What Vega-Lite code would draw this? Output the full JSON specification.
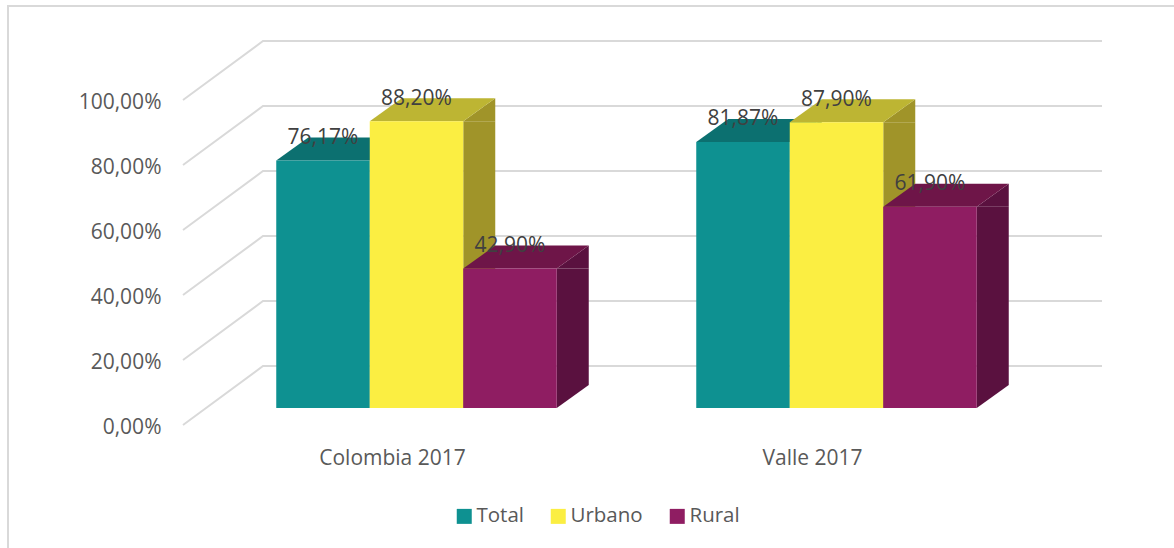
{
"$schema":"https://vega.github.io/schema/vega-lite/v6.json",
"width":1169,"height":545,
"autosize":{"type":"none"},
"padding":{"left":8,"top":6,"right":-3,"bottom":-3},
"background":"white",
"title":{"text":"Figura","anchor":"start","frame":"group","font":"Liberation Serif","fontWeight":"bold","fontSize":20,"color":"#000000","baseline":"alphabetic","offset":7,"dx":9},
"config":{"view":{"stroke":"#D9D9D9","strokeWidth":2},"font":"Open Sans"},
"datasets":{
 "bars":[
  {"grupo":"Colombia 2017","serie":"Total","valor":76.17,"etiqueta":"76,17%"},
  {"grupo":"Colombia 2017","serie":"Urbano","valor":88.2,"etiqueta":"88,20%"},
  {"grupo":"Colombia 2017","serie":"Rural","valor":42.9,"etiqueta":"42,90%"},
  {"grupo":"Valle 2017","serie":"Total","valor":81.87,"etiqueta":"81,87%"},
  {"grupo":"Valle 2017","serie":"Urbano","valor":87.9,"etiqueta":"87,90%"},
  {"grupo":"Valle 2017","serie":"Rural","valor":61.9,"etiqueta":"61,90%"}
 ],
 "grid":[{"t":0},{"t":20},{"t":40},{"t":60},{"t":80},{"t":100}]
},
"data":{"name":"bars"},
"encoding":{
 "y":{"field":"valor","type":"quantitative","scale":{"domain":[-44,123.692],"nice":false,"zero":false}}
},
"layer":[
 {"data":{"name":"grid"},
  "mark":{"type":"point","shape":"M-80,59L0,0L839,0","size":4,"filled":false,"fill":null,"stroke":"#D9D9D9","strokeWidth":2,"opacity":1,"xOffset":56.5,"yOffset":-42},
  "encoding":{
   "x":{"datum":"Colombia 2017","bandPosition":0,"type":"nominal"},
   "y":{"field":"t","type":"quantitative"}
  }},
 {"mark":{"type":"bar","y2Offset":-23},
  "encoding":{
   "x":{"field":"grupo","type":"nominal"},
   "xOffset":{"field":"serie","type":"nominal","scale":{"type":"band","domain":["Total","Urbano","Rural"],"range":[163.25,382.25],"paddingInner":0.65775,"paddingOuter":0}},
   "y2":{"datum":0},
   "color":{"field":"serie","type":"nominal","legend":null,"scale":{"domain":["Total","Urbano","Rural"],"range":["#0A6060","#A09429","#5A113F"]}}
  }},
 {"mark":{"type":"point","shape":"M46.75,0L78.75,-23L78.75,0Z","size":4,"filled":true,"opacity":1},
  "encoding":{
   "x":{"field":"grupo","type":"nominal"},
   "xOffset":{"field":"serie","type":"nominal","scale":{"type":"band","domain":["Total","Urbano","Rural"],"paddingInner":0,"paddingOuter":0.746}},
   "color":{"field":"serie","type":"nominal","legend":null,"scale":{"domain":["Total","Urbano","Rural"],"range":["#0A6060","#A09429","#5A113F"]}}
  }},
 {"mark":{"type":"point","shape":"M46.75,0L78.75,-23L46.75,-23Z","size":4,"filled":true,"opacity":1},
  "encoding":{
   "x":{"field":"grupo","type":"nominal"},
   "xOffset":{"field":"serie","type":"nominal","scale":{"type":"band","domain":["Total","Urbano","Rural"],"paddingInner":0,"paddingOuter":0.746}},
   "y":{"datum":0,"type":"quantitative"},
   "color":{"field":"serie","type":"nominal","legend":null,"scale":{"domain":["Total","Urbano","Rural"],"range":["#0A6060","#A09429","#5A113F"]}}
  }},
 {"mark":{"type":"point","shape":"M-46.75,0L46.75,0L78.75,-23L-14.75,-23Z","size":4,"filled":true,"opacity":1},
  "encoding":{
   "x":{"field":"grupo","type":"nominal"},
   "xOffset":{"field":"serie","type":"nominal","scale":{"type":"band","domain":["Total","Urbano","Rural"],"paddingInner":0,"paddingOuter":0.746}},
   "color":{"field":"serie","type":"nominal","legend":null,"scale":{"domain":["Total","Urbano","Rural"],"range":["#0C7070","#BDB533","#6E1548"]}}
  }},
 {"mark":{"type":"bar"},
  "encoding":{
   "x":{"field":"grupo","type":"nominal","sort":["Colombia 2017","Valle 2017"],
     "scale":{"domain":["Colombia 2017","Valle 2017"],"range":[198.5,1038.5],"paddingInner":0,"paddingOuter":0},
     "axis":{"title":null,"orient":"bottom","offset":-104,"labelOffset":-24,"labelAngle":0,"labelAlign":"center","labelPadding":0,"labelBaseline":"top","labelFontSize":21,"labelColor":"#595959","labelFont":"Open Sans","domain":false,"ticks":false,"grid":false}},
   "xOffset":{"field":"serie","type":"nominal","sort":["Total","Urbano","Rural"],"scale":{"type":"band","domain":["Total","Urbano","Rural"],"paddingInner":0,"paddingOuter":0.746}},
   "y":{"field":"valor","type":"quantitative",
     "axis":{"title":null,"values":[0,20,40,60,80,100],"labelExpr":"replace(format(datum.value,'.2f'),'.',',')+'%'","offset":-153,"labelPadding":0,"labelOffset":20,"labelFontSize":21,"labelColor":"#595959","labelFont":"Open Sans","labelBound":false,"labelFlush":false,"labelOverlap":false,"domain":false,"ticks":false,"grid":false}},
   "y2":{"datum":0},
   "color":{"field":"serie","type":"nominal","scale":{"domain":["Total","Urbano","Rural"],"range":["#0E9191","#FBEE42","#8F1D62"]},
     "legend":{"title":null,"orient":"none","legendX":446,"legendY":500,"direction":"horizontal","columns":3,"symbolType":"square","symbolSize":225,"symbolStrokeWidth":0,"labelFontSize":20.5,"labelColor":"#595959","labelFont":"Open Sans","labelOffset":2,"columnPadding":24}}
  }},
 {"mark":{"type":"text","fontSize":21,"font":"Open Sans","color":"#404040","yOffset":-22.5},
  "encoding":{
   "x":{"field":"grupo","type":"nominal"},
   "xOffset":{"field":"serie","type":"nominal","scale":{"type":"band","domain":["Total","Urbano","Rural"],"paddingInner":0,"paddingOuter":0.746}},
   "text":{"field":"etiqueta","type":"nominal"}
  }}
],
"resolve":{"scale":{"color":"independent","xOffset":"independent"}}
}
